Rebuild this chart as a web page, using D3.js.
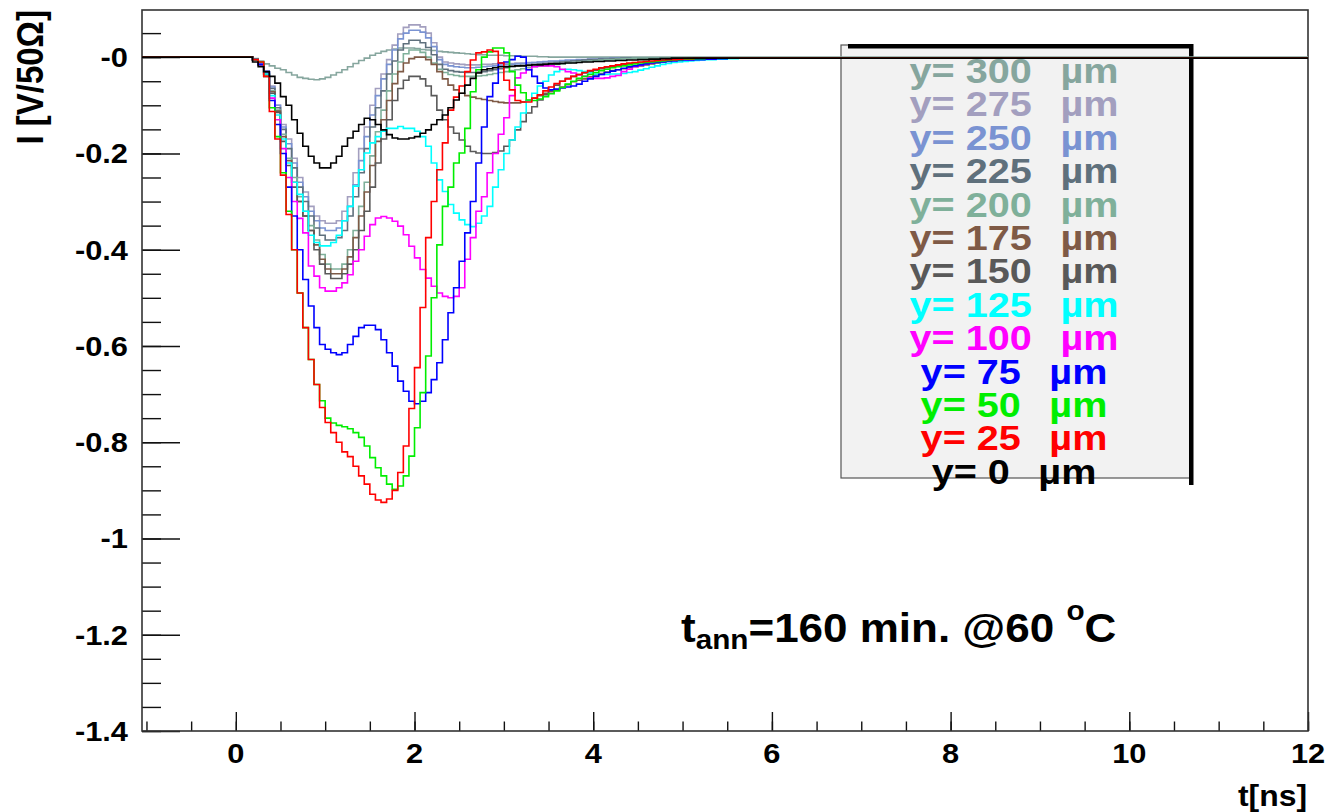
<!DOCTYPE html>
<html>
<head>
<meta charset="utf-8">
<title>TCT signals vs depth</title>
<script src="https://d3js.org/d3.v7.min.js"></script>
<style>
  body { margin: 0; background: #fff; }
  text { font-family: "Liberation Sans", Arial, sans-serif; font-weight: bold; }
</style>
</head>
<body>
<svg width="1329" height="812"></svg>
<script>
// histogram bin width in ns, first bin starts at t = 0
var binWidth = 0.0625;

var positions = [0, 25, 50, 75, 100, 125, 150, 175, 200, 225, 250, 275, 300];
var colors = ["#000000", "#ff0000", "#00ee00", "#0000ff", "#ff00ff", "#00ffff",
              "#595959", "#7f5a46", "#7fb09a", "#5f707c", "#7a93d2", "#a39fbf", "#86a69e"];

var y0 = [0,0,0,-0.01,-0.02,-0.03,-0.04,-0.054,-0.082,-0.10,
  -0.13,-0.158,-0.185,-0.206,-0.22,-0.23,-0.23,-0.22,-0.206,-0.185,
  -0.168,-0.154,-0.14,-0.127,-0.13,-0.14,-0.151,-0.161,-0.168,-0.17,
  -0.17,-0.168,-0.165,-0.158,-0.151,-0.14,-0.13,-0.12,-0.105,-0.089,
  -0.075,-0.058,-0.044,-0.033,-0.026,-0.024,-0.022,-0.02,-0.02,-0.019,
  -0.018,-0.018,-0.017,-0.016,-0.016,-0.015,-0.014,-0.014,-0.013,-0.012,
  -0.012,-0.011,-0.01,-0.01,-0.009,-0.009,-0.008,-0.008,-0.007,-0.007,
  -0.006,-0.006,-0.005,-0.005,-0.004,-0.004,-0.003,-0.003,-0.002];
var y25 = [0,0,0,-0.005,-0.01,-0.04,-0.113,-0.17,-0.245,-0.327,
  -0.40,-0.49,-0.562,-0.628,-0.68,-0.728,-0.759,-0.78,-0.80,-0.82,
  -0.83,-0.85,-0.87,-0.887,-0.908,-0.92,-0.925,-0.918,-0.90,-0.863,
  -0.808,-0.73,-0.645,-0.52,-0.375,-0.30,-0.234,-0.178,-0.11,-0.083,
  -0.06,-0.03,-0.006,0.009,0.011,0.015,0.012,-0.012,-0.048,-0.068,
  -0.09,-0.093,-0.093,-0.085,-0.078,-0.07,-0.062,-0.055,-0.05,-0.045,
  -0.04,-0.036,-0.032,-0.028,-0.025,-0.022,-0.02,-0.018,-0.016,-0.014,
  -0.012,-0.011,-0.01,-0.009,-0.008,-0.007,-0.006,-0.005,-0.005,-0.004,
  -0.003,-0.003,-0.002];
var y50 = [0,0,0,-0.005,-0.01,-0.04,-0.105,-0.165,-0.24,-0.32,
  -0.40,-0.49,-0.562,-0.628,-0.68,-0.714,-0.75,-0.76,-0.765,-0.768,
  -0.772,-0.78,-0.79,-0.808,-0.832,-0.853,-0.87,-0.887,-0.898,-0.891,
  -0.87,-0.829,-0.77,-0.697,-0.621,-0.50,-0.39,-0.31,-0.27,-0.22,
  -0.199,-0.148,-0.072,-0.026,0.0,0.011,0.019,0.019,0.009,-0.03,
  -0.058,-0.074,-0.089,-0.09,-0.087,-0.082,-0.076,-0.07,-0.063,-0.056,
  -0.05,-0.044,-0.04,-0.036,-0.032,-0.028,-0.025,-0.022,-0.02,-0.018,
  -0.016,-0.014,-0.012,-0.011,-0.01,-0.009,-0.008,-0.007,-0.006,-0.005,
  -0.004,-0.004,-0.003,-0.003,-0.002];
var y75 = [0,0,0,-0.005,-0.015,-0.03,-0.09,-0.14,-0.2,-0.27,
  -0.33,-0.40,-0.462,-0.517,-0.562,-0.597,-0.607,-0.614,-0.618,-0.614,
  -0.597,-0.58,-0.562,-0.557,-0.557,-0.566,-0.587,-0.614,-0.642,-0.673,
  -0.694,-0.715,-0.72,-0.715,-0.697,-0.67,-0.635,-0.587,-0.531,-0.479,
  -0.424,-0.365,-0.30,-0.22,-0.145,-0.082,-0.054,-0.012,-0.01,-0.005,
  0.002,0.0,-0.026,-0.04,-0.054,-0.064,-0.068,-0.066,-0.064,-0.062,
  -0.06,-0.056,-0.05,-0.045,-0.04,-0.036,-0.032,-0.029,-0.026,-0.023,
  -0.02,-0.018,-0.016,-0.014,-0.012,-0.011,-0.01,-0.009,-0.008,-0.007,
  -0.006,-0.006,-0.005,-0.005,-0.004,-0.004,-0.003,-0.003,-0.002];
var y100 = [0,0,0,-0.005,-0.015,-0.04,-0.085,-0.13,-0.19,-0.25,
  -0.30,-0.335,-0.365,-0.434,-0.455,-0.479,-0.486,-0.486,-0.479,-0.469,
  -0.452,-0.424,-0.40,-0.372,-0.348,-0.334,-0.331,-0.334,-0.341,-0.351,
  -0.369,-0.393,-0.417,-0.441,-0.459,-0.476,-0.49,-0.497,-0.50,-0.497,
  -0.479,-0.42,-0.375,-0.32,-0.29,-0.24,-0.20,-0.16,-0.126,-0.08,
  -0.043,-0.033,-0.026,-0.02,-0.018,-0.018,-0.018,-0.02,-0.025,-0.03,
  -0.033,-0.037,-0.04,-0.043,-0.044,-0.044,-0.043,-0.04,-0.038,-0.03,
  -0.025,-0.02,-0.017,-0.014,-0.012,-0.01,-0.009,-0.008,-0.007,-0.006,
  -0.005,-0.005,-0.004,-0.004,-0.003,-0.003,-0.002];
var y125 = [0,0,0,-0.005,-0.012,-0.035,-0.08,-0.12,-0.17,-0.22,
  -0.26,-0.285,-0.32,-0.37,-0.385,-0.392,-0.392,-0.385,-0.37,-0.34,
  -0.31,-0.268,-0.234,-0.199,-0.178,-0.165,-0.154,-0.148,-0.148,-0.144,
  -0.148,-0.148,-0.154,-0.165,-0.185,-0.22,-0.255,-0.279,-0.306,-0.324,
  -0.338,-0.348,-0.352,-0.345,-0.33,-0.31,-0.27,-0.234,-0.20,-0.172,
  -0.145,-0.116,-0.09,-0.075,-0.06,-0.05,-0.037,-0.03,-0.026,-0.025,
  -0.026,-0.028,-0.03,-0.033,-0.035,-0.036,-0.036,-0.035,-0.035,-0.034,
  -0.032,-0.03,-0.027,-0.024,-0.021,-0.018,-0.015,-0.013,-0.011,-0.01,
  -0.009,-0.008,-0.007,-0.006,-0.005,-0.005,-0.004,-0.004,-0.003,-0.003,
  -0.002];
var y150 = [0,0,0,-0.005,-0.016,-0.036,-0.075,-0.115,-0.175,-0.225,
  -0.27,-0.30,-0.33,-0.36,-0.40,-0.43,-0.45,-0.46,-0.46,-0.45,
  -0.43,-0.40,-0.36,-0.32,-0.27,-0.22,-0.17,-0.13,-0.09,-0.065,
  -0.048,-0.04,-0.04,-0.045,-0.06,-0.08,-0.11,-0.13,-0.145,-0.158,
  -0.172,-0.185,-0.196,-0.199,-0.2,-0.2,-0.198,-0.195,-0.185,-0.172,
  -0.151,-0.134,-0.116,-0.103,-0.089,-0.078,-0.068,-0.058,-0.05,-0.044,
  -0.04,-0.036,-0.033,-0.03,-0.027,-0.024,-0.022,-0.02,-0.018,-0.016,
  -0.014,-0.012,-0.011,-0.01,-0.009,-0.008,-0.007,-0.006,-0.005,-0.004,
  -0.004,-0.003,-0.003,-0.002];
var y175 = [0,0,0,-0.005,-0.015,-0.035,-0.072,-0.112,-0.165,-0.215,
  -0.26,-0.30,-0.33,-0.36,-0.39,-0.42,-0.44,-0.45,-0.45,-0.44,
  -0.415,-0.375,-0.33,-0.28,-0.225,-0.175,-0.13,-0.09,-0.055,-0.03,
  -0.012,-0.003,0.0,0.0,-0.005,-0.015,-0.03,-0.045,-0.058,-0.068,
  -0.075,-0.08,-0.083,-0.086,-0.088,-0.09,-0.092,-0.094,-0.095,-0.095,
  -0.095,-0.093,-0.09,-0.085,-0.08,-0.075,-0.072,-0.068,-0.062,-0.057,
  -0.051,-0.048,-0.045,-0.041,-0.037,-0.034,-0.031,-0.028,-0.026,-0.024,
  -0.022,-0.02,-0.018,-0.016,-0.014,-0.012,-0.01,-0.008,-0.006,-0.005,
  -0.004,-0.003,-0.002];
var y200 = [0,0,0,-0.005,-0.015,-0.034,-0.07,-0.11,-0.16,-0.21,
  -0.25,-0.29,-0.32,-0.35,-0.38,-0.41,-0.43,-0.44,-0.44,-0.43,
  -0.40,-0.36,-0.31,-0.26,-0.205,-0.155,-0.11,-0.07,-0.035,-0.01,
  0.007,0.015,0.015,0.01,0.0,-0.012,-0.025,-0.032,-0.036,-0.038,
  -0.04,-0.04,-0.04,-0.039,-0.038,-0.036,-0.034,-0.032,-0.03,-0.028,
  -0.026,-0.024,-0.022,-0.02,-0.019,-0.018,-0.016,-0.015,-0.014,-0.012,
  -0.011,-0.01,-0.009,-0.008,-0.007,-0.006,-0.005,-0.005,-0.004,-0.003,
  -0.003,-0.002];
var y225 = [0,0,0,-0.005,-0.015,-0.032,-0.065,-0.105,-0.15,-0.19,
  -0.23,-0.27,-0.30,-0.33,-0.355,-0.37,-0.38,-0.38,-0.375,-0.36,
  -0.33,-0.29,-0.24,-0.19,-0.145,-0.105,-0.07,-0.035,-0.008,0.015,
  0.028,0.035,0.035,0.03,0.02,0.005,-0.015,-0.025,-0.028,-0.03,
  -0.031,-0.032,-0.032,-0.031,-0.03,-0.028,-0.026,-0.024,-0.022,-0.02,
  -0.018,-0.017,-0.016,-0.015,-0.014,-0.013,-0.012,-0.011,-0.01,-0.009,
  -0.008,-0.007,-0.006,-0.005,-0.005,-0.004,-0.004,-0.003,-0.003,-0.002];
var y250 = [0,0,0,-0.005,-0.015,-0.03,-0.062,-0.10,-0.145,-0.18,
  -0.22,-0.26,-0.29,-0.32,-0.34,-0.355,-0.36,-0.36,-0.355,-0.34,
  -0.31,-0.265,-0.215,-0.165,-0.12,-0.08,-0.045,-0.015,0.015,0.038,
  0.05,0.056,0.056,0.052,0.04,0.022,-0.005,-0.015,-0.018,-0.02,
  -0.021,-0.022,-0.022,-0.021,-0.02,-0.019,-0.018,-0.017,-0.016,-0.015,
  -0.014,-0.013,-0.012,-0.011,-0.01,-0.009,-0.008,-0.008,-0.007,-0.006,
  -0.006,-0.005,-0.005,-0.004,-0.004,-0.003,-0.003,-0.002,-0.002];
var y275 = [0,0,0,-0.005,-0.015,-0.03,-0.06,-0.10,-0.14,-0.17,
  -0.21,-0.25,-0.28,-0.31,-0.33,-0.34,-0.345,-0.345,-0.34,-0.32,
  -0.29,-0.24,-0.19,-0.145,-0.10,-0.065,-0.035,-0.005,0.025,0.048,
  0.062,0.067,0.067,0.063,0.05,0.03,0.0,-0.01,-0.012,-0.014,
  -0.015,-0.016,-0.016,-0.016,-0.015,-0.015,-0.014,-0.014,-0.013,-0.013,
  -0.012,-0.012,-0.011,-0.011,-0.01,-0.01,-0.009,-0.009,-0.008,-0.008,
  -0.007,-0.007,-0.006,-0.006,-0.005,-0.005,-0.005,-0.004,-0.004,-0.004,
  -0.003,-0.003,-0.003,-0.003,-0.002,-0.002,-0.002];
var y300 = [0,0,0,-0.003,-0.008,-0.014,-0.018,-0.023,-0.026,-0.032,
  -0.037,-0.042,-0.044,-0.046,-0.047,-0.045,-0.042,-0.037,-0.032,-0.026,
  -0.02,-0.013,-0.007,-0.002,0.004,0.008,0.012,0.015,0.017,0.019,
  0.019,0.019,0.018,0.016,0.015,0.014,0.012,0.011,0.01,0.009,
  0.008,0.007,0.006,0.005,0.005,0.004,0.004,0.004,0.003,0.003,
  0.003,0.002,0.002,0.002,0.001,0.001,0.0];

var series = [y0, y25, y50, y75, y100, y125, y150, y175, y200, y225, y250, y275, y300];

var xTicks = [0, 2, 4, 6, 8, 10, 12];
var yTicks = [0, -0.2, -0.4, -0.6, -0.8, -1, -1.2, -1.4];
var yTickLabels = ["-0", "-0.2", "-0.4", "-0.6", "-0.8", "-1", "-1.2", "-1.4"];

var svg = d3.select("svg");
var frameL = 142, frameR = 1308, frameT = 10, frameB = 731;

var x = d3.scaleLinear().domain([-1.05, 12]).range([frameL, frameR]);
var y = d3.scaleLinear().domain([-1.4, 0.098]).range([frameB, frameT]);

// text in the picture is a bit wider than the font, stretch it
function wideText(g, px, py, str, size, anchor) {
  return g.append("text")
    .attr("transform", "translate(" + px + "," + py + ") scale(1.1,1)")
    .attr("font-size", size)
    .attr("text-anchor", anchor)
    .text(str);
}

svg.append("rect").attr("width", 1329).attr("height", 812).attr("fill", "#fff");

// ticks, pointing into the frame
var xMinor = d3.range(-1, 12.01, 0.5);
var yMinor = d3.range(0, 30).map(function(i) { return -1.4 + i * 0.05; });

var axes = svg.append("g");
axes.append("g").attr("transform", "translate(0," + frameB + ")")
  .call(d3.axisBottom(x).tickValues(xMinor).tickSize(-9.5).tickFormat(""));
axes.append("g").attr("transform", "translate(0," + frameB + ")")
  .call(d3.axisBottom(x).tickValues(xTicks).tickSize(-19).tickFormat(""));
axes.append("g").attr("transform", "translate(" + frameL + ",0)")
  .call(d3.axisLeft(y).tickValues(yMinor).tickSize(-19).tickFormat(""));
axes.append("g").attr("transform", "translate(" + frameL + ",0)")
  .call(d3.axisLeft(y).tickValues(yTicks).tickSize(-38).tickFormat(""));
axes.selectAll(".domain").remove();
axes.selectAll(".tick line").attr("stroke", "#111").attr("stroke-width", 1.4);

svg.append("rect")
  .attr("x", frameL).attr("y", frameT)
  .attr("width", frameR - frameL).attr("height", frameB - frameT)
  .attr("fill", "none").attr("stroke", "#333").attr("stroke-width", 1.6);

// tick labels
var labels = svg.append("g").attr("fill", "#000");
xTicks.forEach(function(d) { wideText(labels, x(d), 763, String(d), 28, "middle"); });
yTicks.forEach(function(d, i) { wideText(labels, 128, y(d) + 10, yTickLabels[i], 28, "end"); });

wideText(labels, 1307, 806, "t[ns]", 29, "end");

labels.append("text")
  .attr("transform", "translate(43," + frameT + ") scale(1.1,1) rotate(-90)")
  .attr("font-size", 33)
  .attr("text-anchor", "end")
  .text("I [V/50\u03a9]");

// legend box with its dark offset edges
var lg = svg.append("g");
lg.append("rect").attr("x", 841).attr("y", 45).attr("width", 349).attr("height", 433)
  .attr("fill", "#f2f2f2").attr("stroke", "#555").attr("stroke-width", 1.2);
lg.append("rect").attr("x", 848).attr("y", 44).attr("width", 345).attr("height", 4.5).attr("fill", "#000");
lg.append("rect").attr("x", 1189).attr("y", 44).attr("width", 4.5).attr("height", 441).attr("fill", "#000");

// step histograms
var line = d3.line()
  .x(function(d) { return x(d[0]); })
  .y(function(d) { return y(d[1]); })
  .curve(d3.curveStepAfter);

var order = d3.range(series.length).reverse();
var curves = svg.append("g").attr("fill", "none").attr("stroke-width", 1.6);
order.forEach(function(i) {
  var vals = series[i];
  var pts = [[x.domain()[0], 0]];
  vals.forEach(function(v, k) { pts.push([k * binWidth, v]); });
  pts.push([12, vals[vals.length - 1]]);
  curves.append("path").attr("d", line(pts)).attr("stroke", colors[i]);
});

// legend entries, deepest first
var rows = d3.range(positions.length).reverse();
rows.forEach(function(i, r) {
  var t = wideText(lg, 1014, 83 + 33.4 * r, "y= " + positions[i], 36, "middle")
    .attr("fill", colors[i]);
  t.append("tspan").attr("dx", 16).text(" \u00b5m");
});

// annealing note
var note = svg.append("text")
  .attr("transform", "translate(681,642) scale(1.1,1)")
  .attr("font-size", 40);
note.append("tspan").text("t");
note.append("tspan").attr("font-size", 27).attr("dy", 7).text("ann");
note.append("tspan").attr("dy", -7).text("=160 min. @60 ");
note.append("tspan").attr("font-size", 27).attr("dy", -22).text("o");
note.append("tspan").attr("dy", 22).text("C");
</script>
</body>
</html>
